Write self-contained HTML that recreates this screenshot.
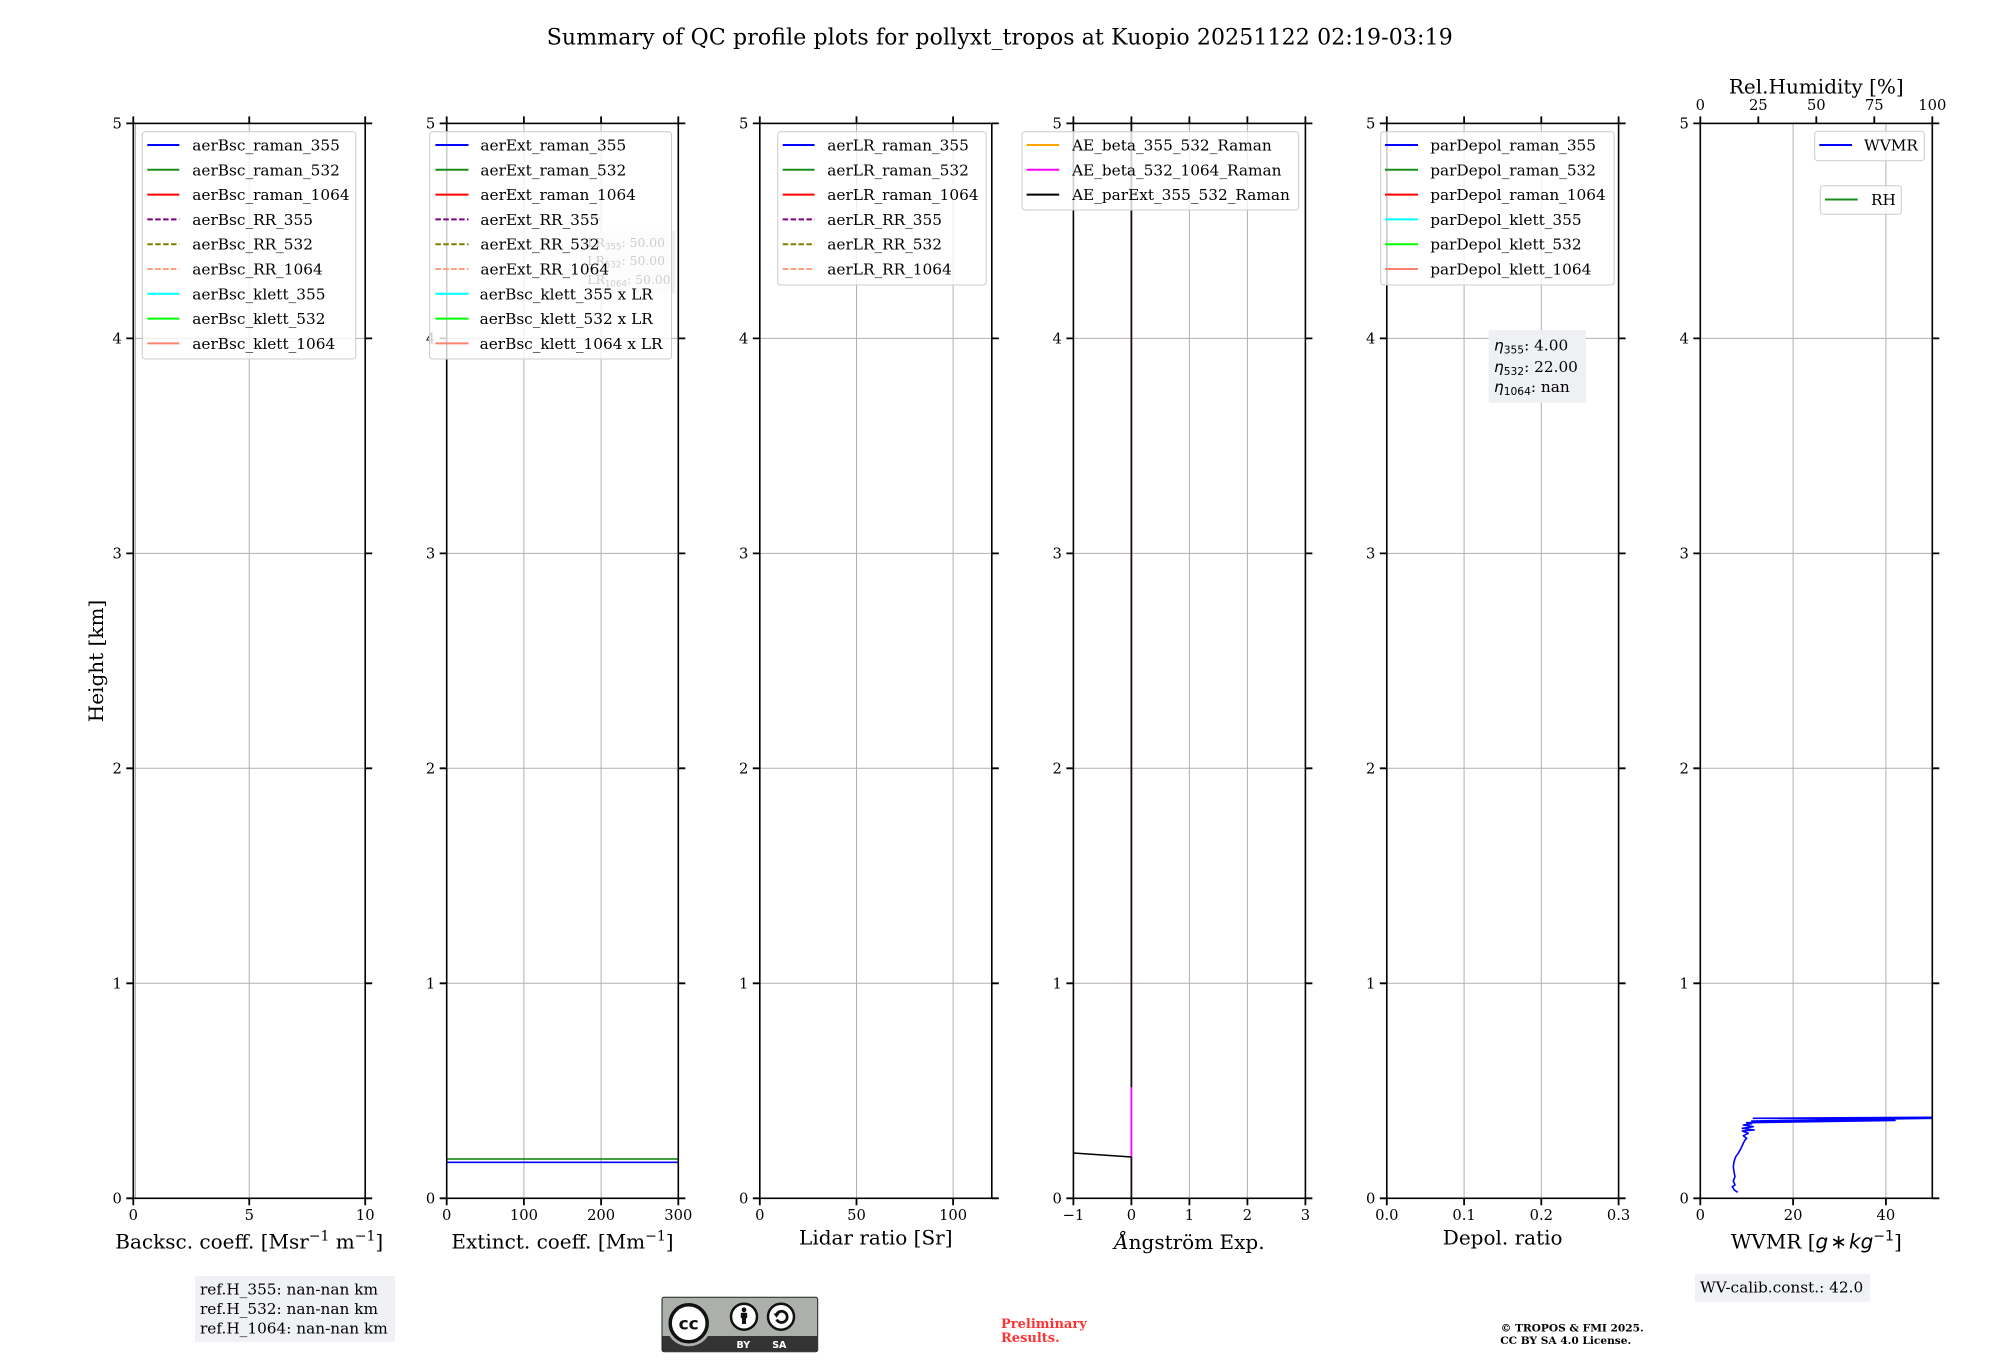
<!DOCTYPE html>
<html>
<head>
<meta charset="utf-8">
<style>
html,body{margin:0;padding:0;background:#fff;}
svg{display:block;}
text{font-family:"DejaVu Serif","Liberation Serif",serif;}
.tk{font-size:14.7px;}
.lg{font-size:15.3px;}
.xl{font-size:20px;}
.grid{stroke:#b0b0b0;stroke-width:1;fill:none;}
.ax{fill:none;stroke:#000;stroke-width:1.6;}
.tick{stroke:#000;stroke-width:1.8;fill:none;}
.leg{fill:#fff;fill-opacity:0.8;stroke:#cccccc;stroke-width:1;}
.h{stroke-width:2;fill:none;}
.d{stroke-dasharray:5.5 2.4;}
.mi{font-family:"DejaVu Sans",sans-serif;font-style:italic;}
.ms{font-family:"DejaVu Sans",sans-serif;font-size:10.7px;}
.ms2{font-family:"DejaVu Sans",sans-serif;font-size:8.7px;}
</style>
</head>
<body>
<svg width="2000" height="1360" viewBox="0 0 2000 1360" xmlns="http://www.w3.org/2000/svg">
<rect x="0" y="0" width="2000" height="1360" fill="#fff"/>
<defs>
<clipPath id="c6"><rect x="1700.3" y="123.4" width="232" height="1074.9"/></clipPath>
<clipPath id="c4"><rect x="1073.4" y="123.4" width="232" height="1074.9"/></clipPath>
</defs>

<!-- Title -->
<text x="546.7" y="44.3" font-size="22" textLength="906" lengthAdjust="spacing">Summary of QC profile plots for pollyxt_tropos at Kuopio 20251122 02:19-03:19</text>

<!-- Y label -->
<text class="xl" transform="translate(103,661) rotate(-90)" text-anchor="middle">Height [km]</text>

<!-- ================= GRID ================= -->
<g class="grid">
<path d="M133.3 983.3H365.2M133.3 768.3H365.2M133.3 553.4H365.2M133.3 338.4H365.2"/>
<path d="M446.7 983.3H678.3M446.7 768.3H678.3M446.7 553.4H678.3M446.7 338.4H678.3"/>
<path d="M759.8 983.3H991.8M759.8 768.3H991.8M759.8 553.4H991.8M759.8 338.4H991.8"/>
<path d="M1073.4 983.3H1305.4M1073.4 768.3H1305.4M1073.4 553.4H1305.4M1073.4 338.4H1305.4"/>
<path d="M1386.8 983.3H1618.6M1386.8 768.3H1618.6M1386.8 553.4H1618.6M1386.8 338.4H1618.6"/>
<path d="M1700.3 983.3H1932.3M1700.3 768.3H1932.3M1700.3 553.4H1932.3M1700.3 338.4H1932.3"/>
<path d="M249.25 123.4V1198.3"/>
<path d="M523.9 123.4V1198.3M601.1 123.4V1198.3"/>
<path d="M856.5 123.4V1198.3M953.1 123.4V1198.3"/>
<path d="M1131.4 123.4V1198.3M1189.4 123.4V1198.3M1247.4 123.4V1198.3"/>
<path d="M1464.1 123.4V1198.3M1541.3 123.4V1198.3"/>
<path d="M1793.1 123.4V1198.3M1885.9 123.4V1198.3"/>
</g>

<!-- ================= DATA ================= -->
<path d="M135.3 123.4V1198.3" stroke="#a0a0a0" stroke-width="1" fill="none"/>
<path d="M446.7 1159H678.3" stroke="#008000" stroke-width="1.6" fill="none"/>
<path d="M446.7 1162.3H678.3" stroke="#0000ff" stroke-width="1.6" fill="none"/>
<g clip-path="url(#c4)">
<path d="M1131.4 1087.3V1157" stroke="#ff00ff" stroke-width="1.8" fill="none"/>
<path d="M1131.4 123.4V1087.3" stroke="#1c0a1c" stroke-width="1.8" fill="none"/>
<path d="M1131.4 1157V1198.3" stroke="#1c0a1c" stroke-width="1.8" fill="none"/>
<path d="M1073.4 1153L1131.4 1157" stroke="#000" stroke-width="1.6" fill="none"/>
</g>
<g clip-path="url(#c6)">
<polyline fill="none" stroke="#0000ff" stroke-width="1.6" stroke-linejoin="round" points="1737.7,1192.3 1734.3,1190 1732.3,1186.7 1735,1185 1733.3,1181 1735,1176.7 1734,1171.7 1733.3,1166.7 1734,1161.7 1735.7,1156.7 1738.3,1153.3 1741,1148.3 1743.3,1143.3 1745,1140 1746.7,1138.3 1743.3,1135.7 1748.3,1133.3 1742.3,1131 1754.3,1130 1742.3,1128.3 1753.3,1126.7 1743.3,1125 1751.7,1123.7 1746.7,1122.7 1895,1120.5 1751.7,1121 1940,1118.2 1753.3,1118.3 1940,1117.3"/>
</g>

<!-- ================= AXES FRAMES ================= -->
<rect class="ax" x="133.3" y="123.4" width="231.9" height="1074.9"/>
<rect class="ax" x="446.7" y="123.4" width="231.6" height="1074.9"/>
<rect class="ax" x="759.8" y="123.4" width="232" height="1074.9"/>
<rect class="ax" x="1073.4" y="123.4" width="232" height="1074.9"/>
<rect class="ax" x="1386.8" y="123.4" width="231.8" height="1074.9"/>
<rect class="ax" x="1700.3" y="123.4" width="232" height="1074.9"/>

<!-- ================= TICKS ================= -->
<g class="tick">
<path d="M126.3 1198.3H133.3M126.3 983.3H133.3M126.3 768.3H133.3M126.3 553.4H133.3M126.3 338.4H133.3M126.3 123.4H133.3"/>
<path d="M365.2 1198.3H372.2M365.2 983.3H372.2M365.2 768.3H372.2M365.2 553.4H372.2M365.2 338.4H372.2M365.2 123.4H372.2"/>
<path d="M133.3 1198.3V1205.3M249.25 1198.3V1205.3M365.2 1198.3V1205.3M133.3 123.4V116.4M249.25 123.4V116.4M365.2 123.4V116.4"/>
<path d="M439.7 1198.3H446.7M439.7 983.3H446.7M439.7 768.3H446.7M439.7 553.4H446.7M439.7 338.4H446.7M439.7 123.4H446.7"/>
<path d="M678.3 1198.3H685.3M678.3 983.3H685.3M678.3 768.3H685.3M678.3 553.4H685.3M678.3 338.4H685.3M678.3 123.4H685.3"/>
<path d="M446.7 1198.3V1205.3M523.9 1198.3V1205.3M601.1 1198.3V1205.3M678.3 1198.3V1205.3M446.7 123.4V116.4M523.9 123.4V116.4M601.1 123.4V116.4M678.3 123.4V116.4"/>
<path d="M752.8 1198.3H759.8M752.8 983.3H759.8M752.8 768.3H759.8M752.8 553.4H759.8M752.8 338.4H759.8M752.8 123.4H759.8"/>
<path d="M991.8 1198.3H998.8M991.8 983.3H998.8M991.8 768.3H998.8M991.8 553.4H998.8M991.8 338.4H998.8M991.8 123.4H998.8"/>
<path d="M759.8 1198.3V1205.3M856.5 1198.3V1205.3M953.1 1198.3V1205.3M759.8 123.4V116.4M856.5 123.4V116.4M953.1 123.4V116.4"/>
<path d="M1066.4 1198.3H1073.4M1066.4 983.3H1073.4M1066.4 768.3H1073.4M1066.4 553.4H1073.4M1066.4 338.4H1073.4M1066.4 123.4H1073.4"/>
<path d="M1305.4 1198.3H1312.4M1305.4 983.3H1312.4M1305.4 768.3H1312.4M1305.4 553.4H1312.4M1305.4 338.4H1312.4M1305.4 123.4H1312.4"/>
<path d="M1073.4 1198.3V1205.3M1131.4 1198.3V1205.3M1189.4 1198.3V1205.3M1247.4 1198.3V1205.3M1305.4 1198.3V1205.3M1073.4 123.4V116.4M1131.4 123.4V116.4M1189.4 123.4V116.4M1247.4 123.4V116.4M1305.4 123.4V116.4"/>
<path d="M1379.8 1198.3H1386.8M1379.8 983.3H1386.8M1379.8 768.3H1386.8M1379.8 553.4H1386.8M1379.8 338.4H1386.8M1379.8 123.4H1386.8"/>
<path d="M1618.6 1198.3H1625.6M1618.6 983.3H1625.6M1618.6 768.3H1625.6M1618.6 553.4H1625.6M1618.6 338.4H1625.6M1618.6 123.4H1625.6"/>
<path d="M1386.8 1198.3V1205.3M1464.1 1198.3V1205.3M1541.3 1198.3V1205.3M1618.6 1198.3V1205.3M1386.8 123.4V116.4M1464.1 123.4V116.4M1541.3 123.4V116.4M1618.6 123.4V116.4"/>
<path d="M1693.3 1198.3H1700.3M1693.3 983.3H1700.3M1693.3 768.3H1700.3M1693.3 553.4H1700.3M1693.3 338.4H1700.3M1693.3 123.4H1700.3"/>
<path d="M1932.3 1198.3H1939.3M1932.3 983.3H1939.3M1932.3 768.3H1939.3M1932.3 553.4H1939.3M1932.3 338.4H1939.3M1932.3 123.4H1939.3"/>
<path d="M1700.3 1198.3V1205.3M1793.1 1198.3V1205.3M1885.9 1198.3V1205.3"/>
<path d="M1700.3 123.4V116.4M1758.3 123.4V116.4M1816.3 123.4V116.4M1874.3 123.4V116.4M1932.3 123.4V116.4"/>
</g>

<!-- ================= Y TICK LABELS ================= -->
<g class="tk" text-anchor="end">
<text x="121.8" y="1203.6">0</text><text x="121.8" y="988.6">1</text><text x="121.8" y="773.6">2</text><text x="121.8" y="558.7">3</text><text x="121.8" y="343.7">4</text><text x="121.8" y="128.7">5</text>
<text x="435.2" y="1203.6">0</text><text x="435.2" y="988.6">1</text><text x="435.2" y="773.6">2</text><text x="435.2" y="558.7">3</text><text x="435.2" y="343.7">4</text><text x="435.2" y="128.7">5</text>
<text x="748.3" y="1203.6">0</text><text x="748.3" y="988.6">1</text><text x="748.3" y="773.6">2</text><text x="748.3" y="558.7">3</text><text x="748.3" y="343.7">4</text><text x="748.3" y="128.7">5</text>
<text x="1061.9" y="1203.6">0</text><text x="1061.9" y="988.6">1</text><text x="1061.9" y="773.6">2</text><text x="1061.9" y="558.7">3</text><text x="1061.9" y="343.7">4</text><text x="1061.9" y="128.7">5</text>
<text x="1375.3" y="1203.6">0</text><text x="1375.3" y="988.6">1</text><text x="1375.3" y="773.6">2</text><text x="1375.3" y="558.7">3</text><text x="1375.3" y="343.7">4</text><text x="1375.3" y="128.7">5</text>
<text x="1688.8" y="1203.6">0</text><text x="1688.8" y="988.6">1</text><text x="1688.8" y="773.6">2</text><text x="1688.8" y="558.7">3</text><text x="1688.8" y="343.7">4</text><text x="1688.8" y="128.7">5</text>
</g>

<!-- ================= X TICK LABELS ================= -->
<g class="tk" text-anchor="middle">
<text x="133.3" y="1220">0</text><text x="249.25" y="1220">5</text><text x="365.2" y="1220">10</text>
<text x="446.7" y="1220">0</text><text x="523.9" y="1220">100</text><text x="601.1" y="1220">200</text><text x="678.3" y="1220">300</text>
<text x="759.8" y="1220">0</text><text x="856.5" y="1220">50</text><text x="953.1" y="1220">100</text>
<text x="1073.4" y="1220">−1</text><text x="1131.4" y="1220">0</text><text x="1189.4" y="1220">1</text><text x="1247.4" y="1220">2</text><text x="1305.4" y="1220">3</text>
<text x="1386.8" y="1220">0.0</text><text x="1464.1" y="1220">0.1</text><text x="1541.3" y="1220">0.2</text><text x="1618.6" y="1220">0.3</text>
<text x="1700.3" y="1220">0</text><text x="1793.1" y="1220">20</text><text x="1885.9" y="1220">40</text>
<text x="1700.3" y="110">0</text><text x="1758.3" y="110">25</text><text x="1816.3" y="110">50</text><text x="1874.3" y="110">75</text><text x="1932.3" y="110">100</text>
</g>

<!-- ================= X LABELS ================= -->
<g class="xl" text-anchor="middle">
<text x="249.25" y="1248.3">Backsc. coeff. [Msr<tspan font-size="14" dy="-8">−1</tspan><tspan dy="8"> m</tspan><tspan font-size="14" dy="-8">−1</tspan><tspan dy="8">]</tspan></text>
<text x="562.5" y="1248.3">Extinct. coeff. [Mm<tspan font-size="14" dy="-8">−1</tspan><tspan dy="8">]</tspan></text>
<text x="875.8" y="1244.3">Lidar ratio [Sr]</text>
<text x="1189.4" y="1249"><tspan font-style="italic">Å</tspan>ngström Exp.</text>
<text x="1502.7" y="1244.3">Depol. ratio</text>
<text x="1816.3" y="1248.3">WVMR [<tspan class="mi">g</tspan><tspan style="font-family:'DejaVu Sans',sans-serif" dx="2">∗</tspan><tspan class="mi" dx="2">kg</tspan><tspan style="font-family:'DejaVu Sans',sans-serif" font-size="14" dy="-8">−1</tspan><tspan dy="8">]</tspan></text>
<text x="1816.3" y="93.3">Rel.Humidity [%]</text>
</g>

<!-- ================= ANNOTATION BOXES ================= -->
<rect x="580.8" y="231" width="94.2" height="62.3" fill="#eef0f5"/>
<g font-size="12.4">
<text x="587.3" y="247">LR<tspan class="ms2" dy="2.5">355</tspan><tspan dy="-2.5">: 50.00</tspan></text>
<text x="587.3" y="265">LR<tspan class="ms2" dy="2.5">532</tspan><tspan dy="-2.5">: 50.00</tspan></text>
<text x="587.3" y="284">LR<tspan class="ms2" dy="2.5">1064</tspan><tspan dy="-2.5">: 50.00</tspan></text>
</g>

<rect x="1488.6" y="330" width="97.3" height="72.7" fill="#eef0f4"/>
<g class="lg">
<text x="1494" y="350.5"><tspan class="mi">η</tspan><tspan class="ms" dy="3">355</tspan><tspan dy="-3">: 4.00</tspan></text>
<text x="1494" y="372"><tspan class="mi">η</tspan><tspan class="ms" dy="3">532</tspan><tspan dy="-3">: 22.00</tspan></text>
<text x="1494" y="392"><tspan class="mi">η</tspan><tspan class="ms" dy="3">1064</tspan><tspan dy="-3">: nan</tspan></text>
</g>

<!-- ================= LEGENDS ================= -->
<rect class="leg" x="142.3" y="131.7" width="213.5" height="227.3" rx="3"/>
<g>
<path class="h" stroke="#0000ff" d="M147.3 145H179.3"/>
<path class="h" stroke="#1a8c1a" d="M147.3 169.8H179.3"/>
<path class="h" stroke="#ff0000" d="M147.3 194.6H179.3"/>
<path class="h d" stroke="#800080" d="M147.3 219.4H179.3"/>
<path class="h d" stroke="#808000" d="M147.3 244.2H179.3"/>
<path class="h d" stroke="#ffa07a" d="M147.3 269H179.3"/>
<path class="h" stroke="#00ffff" d="M147.3 293.8H179.3"/>
<path class="h" stroke="#00ff00" d="M147.3 318.6H179.3"/>
<path class="h" stroke="#fa8072" d="M147.3 343.4H179.3"/>
</g>
<g class="lg">
<text x="192.3" y="150.5">aerBsc_raman_355</text>
<text x="192.3" y="175.3">aerBsc_raman_532</text>
<text x="192.3" y="200.1">aerBsc_raman_1064</text>
<text x="192.3" y="224.9">aerBsc_RR_355</text>
<text x="192.3" y="249.7">aerBsc_RR_532</text>
<text x="192.3" y="274.5">aerBsc_RR_1064</text>
<text x="192.3" y="299.3">aerBsc_klett_355</text>
<text x="192.3" y="324.1">aerBsc_klett_532</text>
<text x="192.3" y="348.9">aerBsc_klett_1064</text>
</g>

<rect class="leg" x="429.6" y="131.7" width="241.9" height="227.3" rx="3"/>
<g>
<path class="h" stroke="#0000ff" d="M435.4 145H468.5"/>
<path class="h" stroke="#1a8c1a" d="M435.4 169.8H468.5"/>
<path class="h" stroke="#ff0000" d="M435.4 194.6H468.5"/>
<path class="h d" stroke="#800080" d="M435.4 219.4H468.5"/>
<path class="h d" stroke="#808000" d="M435.4 244.2H468.5"/>
<path class="h d" stroke="#ffa07a" d="M435.4 269H468.5"/>
<path class="h" stroke="#00ffff" d="M435.4 293.8H468.5"/>
<path class="h" stroke="#00ff00" d="M435.4 318.6H468.5"/>
<path class="h" stroke="#fa8072" d="M435.4 343.4H468.5"/>
</g>
<g class="lg">
<text x="480.4" y="150.5">aerExt_raman_355</text>
<text x="480.4" y="175.3">aerExt_raman_532</text>
<text x="480.4" y="200.1">aerExt_raman_1064</text>
<text x="480.4" y="224.9">aerExt_RR_355</text>
<text x="480.4" y="249.7">aerExt_RR_532</text>
<text x="480.4" y="274.5">aerExt_RR_1064</text>
<text x="479.6" y="299.3">aerBsc_klett_355 x LR</text>
<text x="479.6" y="324.1">aerBsc_klett_532 x LR</text>
<text x="479.6" y="348.9">aerBsc_klett_1064 x LR</text>
</g>

<rect class="leg" x="777.7" y="131.7" width="208.5" height="153.3" rx="3"/>
<g>
<path class="h" stroke="#0000ff" d="M782.7 145H814.6"/>
<path class="h" stroke="#1a8c1a" d="M782.7 169.8H814.6"/>
<path class="h" stroke="#ff0000" d="M782.7 194.6H814.6"/>
<path class="h d" stroke="#800080" d="M782.7 219.4H814.6"/>
<path class="h d" stroke="#808000" d="M782.7 244.2H814.6"/>
<path class="h d" stroke="#ffa07a" d="M782.7 269H814.6"/>
</g>
<g class="lg">
<text x="827.3" y="150.5">aerLR_raman_355</text>
<text x="827.3" y="175.3">aerLR_raman_532</text>
<text x="827.3" y="200.1">aerLR_raman_1064</text>
<text x="827.3" y="224.9">aerLR_RR_355</text>
<text x="827.3" y="249.7">aerLR_RR_532</text>
<text x="827.3" y="274.5">aerLR_RR_1064</text>
</g>

<rect class="leg" x="1022" y="131.7" width="276.6" height="78.3" rx="3"/>
<g>
<path class="h" stroke="#ffa500" d="M1026.6 145H1059.2"/>
<path class="h" stroke="#ff00ff" d="M1026.6 169.8H1059.2"/>
<path class="h" stroke="#000000" d="M1026.6 194.6H1059.2"/>
</g>
<g class="lg">
<text x="1072" y="150.5">AE_beta_355_532_Raman</text>
<text x="1072" y="175.3">AE_beta_532_1064_Raman</text>
<text x="1072" y="200.1">AE_parExt_355_532_Raman</text>
</g>

<rect class="leg" x="1380.7" y="131.7" width="233.5" height="153.3" rx="3"/>
<g>
<path class="h" stroke="#0000ff" d="M1385 145H1418"/>
<path class="h" stroke="#1a8c1a" d="M1385 169.8H1418"/>
<path class="h" stroke="#ff0000" d="M1385 194.6H1418"/>
<path class="h" stroke="#00ffff" d="M1385 219.4H1418"/>
<path class="h" stroke="#00ff00" d="M1385 244.2H1418"/>
<path class="h" stroke="#fa8072" d="M1385 269H1418"/>
</g>
<g class="lg">
<text x="1430.2" y="150.5">parDepol_raman_355</text>
<text x="1430.2" y="175.3">parDepol_raman_532</text>
<text x="1430.2" y="200.1">parDepol_raman_1064</text>
<text x="1430.2" y="224.9">parDepol_klett_355</text>
<text x="1430.2" y="249.7">parDepol_klett_532</text>
<text x="1430.2" y="274.5">parDepol_klett_1064</text>
</g>

<rect class="leg" x="1814.7" y="131.3" width="109.6" height="29.4" rx="3"/>
<path class="h" stroke="#0000ff" d="M1819.3 145H1852"/>
<text class="lg" x="1864" y="150.5">WVMR</text>
<rect class="leg" x="1820.3" y="185.7" width="81" height="28.6" rx="3"/>
<path class="h" stroke="#1a8c1a" d="M1825 199.5H1857.7"/>
<text class="lg" x="1871" y="205">RH</text>

<!-- ================= BOTTOM TEXT ================= -->
<rect x="195" y="1276" width="200" height="66" fill="#f0f1f5"/>
<g class="lg">
<text x="200" y="1294.5">ref.H_355: nan-nan km</text>
<text x="200" y="1314">ref.H_532: nan-nan km</text>
<text x="200" y="1333.5">ref.H_1064: nan-nan km</text>
</g>

<rect x="1695" y="1274" width="175" height="27.7" fill="#f0f1f5"/>
<text class="lg" x="1700" y="1292.3">WV-calib.const.: 42.0</text>

<!-- CC badge -->
<g>
<rect x="662" y="1297.3" width="155.7" height="54.4" rx="2" fill="#abb1aa" stroke="#222" stroke-width="1"/>
<rect x="662.5" y="1336" width="154.7" height="15.2" fill="#333"/>
<circle cx="688.7" cy="1323.3" r="23" fill="#abb1aa"/>
<circle cx="688.7" cy="1323.3" r="18.5" fill="#fff" stroke="#111" stroke-width="3.5"/>
<text x="688.7" y="1329.5" text-anchor="middle" font-weight="bold" font-size="17" style="font-family:'DejaVu Sans',sans-serif;fill:#111">cc</text>
<circle cx="744" cy="1316.7" r="13" fill="#fff" stroke="#111" stroke-width="2.5"/>
<circle cx="744" cy="1309.8" r="2.4" fill="#111"/>
<rect x="740.8" y="1312.8" width="6.4" height="5.5" rx="1" fill="#111"/>
<rect x="742" y="1317" width="4" height="7" fill="#111"/>
<circle cx="781" cy="1316.7" r="13" fill="#fff" stroke="#111" stroke-width="2.5"/>
<path d="M776.5 1314.5 A5.6 5.6 0 1 1 776.6 1319.5" fill="none" stroke="#111" stroke-width="2.8"/>
<path d="M773.5 1313.5 L779.5 1313.5 L776.5 1317.8 Z" fill="#111"/>
<text x="743.3" y="1347.8" text-anchor="middle" font-weight="bold" font-size="9.5" style="font-family:'DejaVu Sans',sans-serif;fill:#ffffff">BY</text>
<text x="779.3" y="1347.8" text-anchor="middle" font-weight="bold" font-size="9.5" style="font-family:'DejaVu Sans',sans-serif;fill:#ffffff">SA</text>
</g>

<!-- Preliminary -->
<text x="1001" y="1327.8" font-weight="bold" font-size="13" style="fill:#ff3333">Preliminary</text>
<text x="1001" y="1342.2" font-weight="bold" font-size="13" style="fill:#ff3333">Results.</text>

<!-- Copyright -->
<text x="1500.7" y="1331.5" font-weight="bold" font-size="10.6">© TROPOS &amp; FMI 2025.</text>
<text x="1500.2" y="1343.8" font-weight="bold" font-size="10.6">CC BY SA 4.0 License.</text>

</svg>
</body>
</html>
